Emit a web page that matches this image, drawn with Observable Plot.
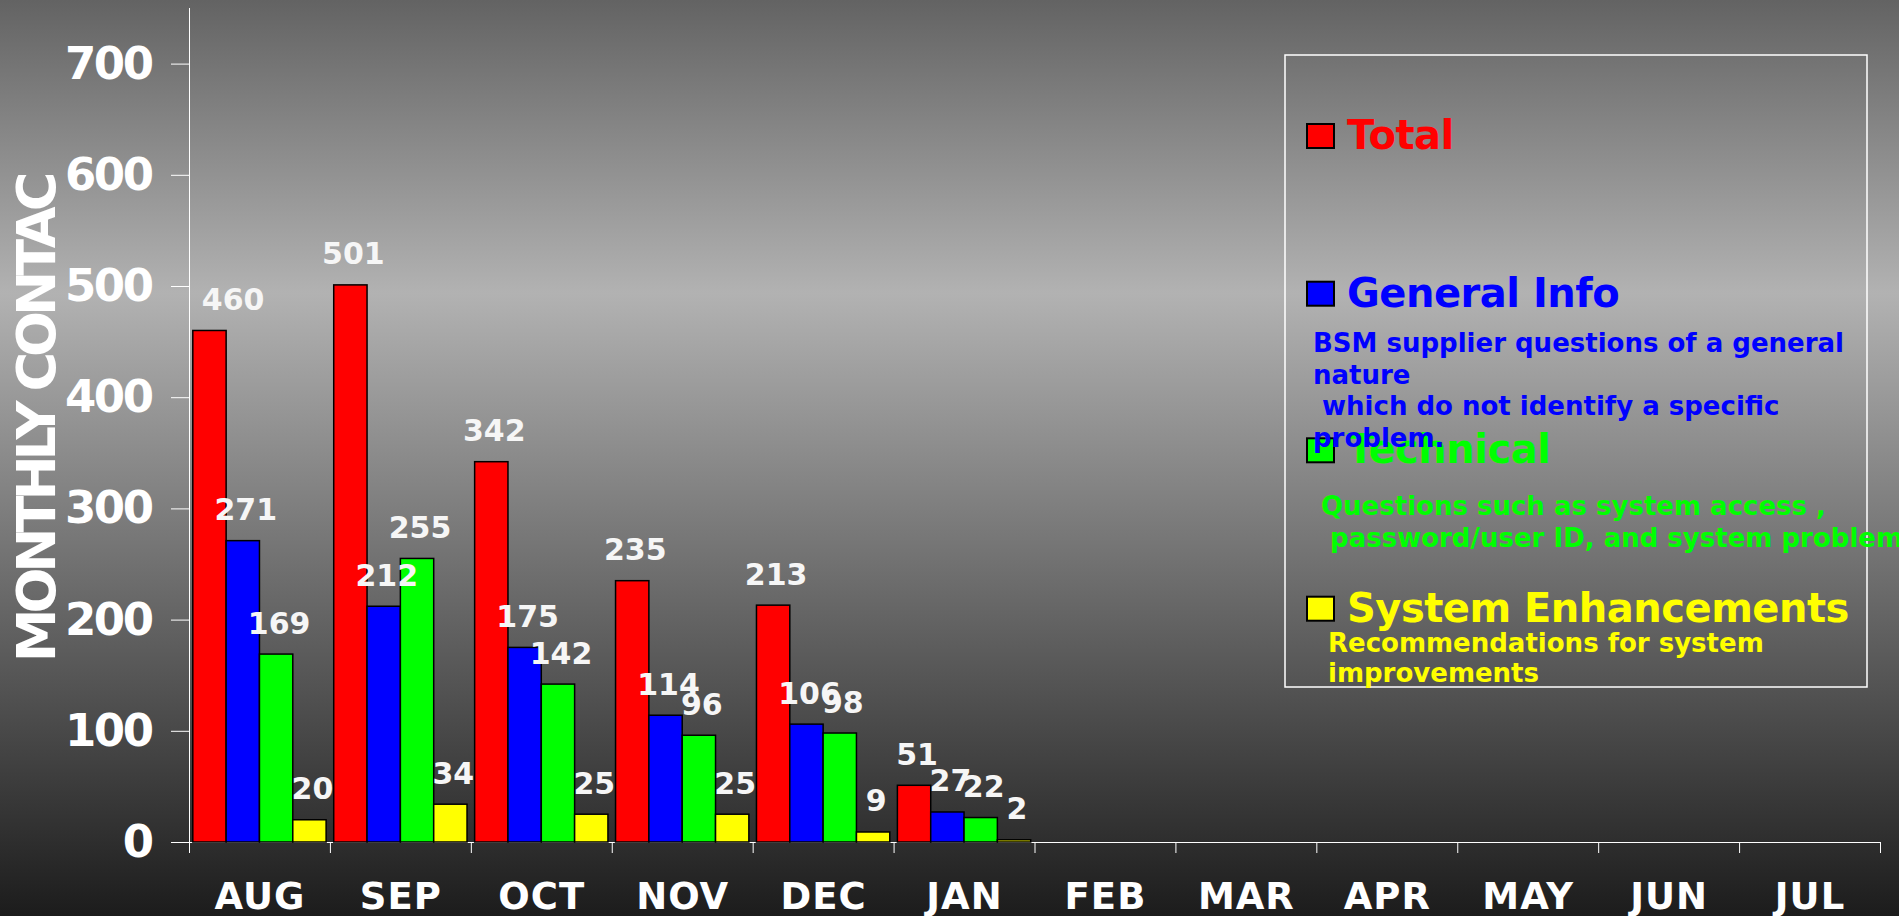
<!DOCTYPE html>
<html>
<head>
<meta charset="utf-8">
<script src="https://cdn.jsdelivr.net/npm/d3@7"></script>
<script src="https://cdn.jsdelivr.net/npm/@observablehq/plot@0.6"></script>
<style>
  html, body { margin: 0; padding: 0; overflow: hidden; background: #1e1e1e; }
  #chart { position: relative; width: 1899px; height: 916px; }
  svg text { font-family: "DejaVu Sans", sans-serif; font-weight: bold; }
  g[aria-label^="y-axis"] text { font-size: 45px; letter-spacing: -2.5px; }
  g.legend text { text-anchor: start; }
</style>
</head>
<body>
<div id="chart"></div>
<script>
// ---- data ----
const months = ["AUG", "SEP", "OCT", "NOV", "DEC", "JAN", "FEB", "MAR", "APR", "MAY", "JUN", "JUL"];
const seriesNames = ["Total", "General Info", "Technical", "System Enhancements"];
const seriesColors = ["#ff0000", "#0000ff", "#00ff00", "#ffff00"];
const totalValues = [460, 501, 342, 235, 213, 51];
const generalInfoValues = [271, 212, 175, 114, 106, 27];
const technicalValues = [169, 255, 142, 96, 98, 22];
const enhancementValues = [20, 34, 25, 25, 9, 2];
const yTicks = [0, 100, 200, 300, 400, 500, 600, 700];
const yAxisTitle = "MONTHLY CONTAC";
const legendDescriptions = [
  [],
  ["BSM supplier questions of a general", "nature", " which do not identify a specific", "problem."],
  ["Questions such as system access ,", " password/user ID, and system problems"],
  ["Recommendations for system", "improvements"]
];

// ---- table ----
const seriesValues = [totalValues, generalInfoValues, technicalValues, enhancementValues];
const rows = [];
seriesValues.forEach((vals, si) => {
  vals.forEach((v, mi) => rows.push({month: months[mi], mi, si, series: seriesNames[si], value: v}));
});

// ---- layout helpers (month slot = 1 unit) ----
const PAD = 0.027;
const W = (1 - 2 * PAD) / 4;
const barX1 = d => d.mi + PAD + d.si * W;
const barX2 = d => d.mi + PAD + (d.si + 1) * W;
const pxPerUnit = (1899 - 189 - 19) / 12;
const labelX = d => {
  const c = (barX1(d) + barX2(d)) / 2;
  const half = (String(d.value).length * 0.696 * 30 / 2) / pxPerUnit;
  const minLeft = 0.07;
  return Math.max(c, minLeft + half);
};

const plot = Plot.plot({
  width: 1899,
  height: 916,
  marginLeft: 189,
  marginRight: 19,
  marginTop: 8,
  marginBottom: 74,
  style: {
    background: "linear-gradient(to bottom, #636363 0%, #b2b2b2 32%, #1c1c1c 100%)",
    color: "white",
    fontFamily: "DejaVu Sans",
    fontWeight: "bold",
    overflow: "hidden"
  },
  x: {domain: [0, 12], ticks: d3.range(13), tickFormat: () => "", tickSize: 11, line: true, label: null},
  y: {domain: [0, 750], ticks: yTicks, tickSize: 18, tickPadding: 20, line: true, label: null},
  color: {domain: seriesNames, range: seriesColors},
  marks: [
    Plot.rectY(rows, {x1: barX1, x2: barX2, y1: 0, y2: "value", fill: "series", stroke: "black", strokeWidth: 1.5}),
    Plot.text(rows, {x: labelX, y: "value", text: d => String(d.value), lineAnchor: "bottom", dy: -21, dx: 2.5,
      fill: "#f6f6f6", fontSize: 30, fontWeight: "bold"}),
    Plot.text(months, {x: (d, i) => i + 0.5, frameAnchor: "bottom", text: d => d, lineAnchor: "bottom", dy: 66,
      fill: "white", fontSize: 37, fontWeight: "bold"}),
    Plot.text([yAxisTitle], {frameAnchor: "left", text: d => d, rotate: -90, textAnchor: "middle", lineAnchor: "middle",
      dx: -152, dy: -6, fill: "white", fontSize: 54, fontWeight: "bold"})
  ]
});

document.getElementById("chart").appendChild(plot);

const svg = d3.select(plot);
svg.selectAll("text").filter(function () { return this.textContent === yAxisTitle; })
  .style("letter-spacing", "-5px");
svg.selectAll("text").filter(function () { return months.includes(this.textContent); })
  .style("letter-spacing", "1px");

// ---- legend ----
const lg = svg.append("g").attr("class", "legend").attr("text-anchor", "start");
lg.append("rect").attr("x", 1285).attr("y", 55).attr("width", 582).attr("height", 632)
  .attr("fill", "none").attr("stroke", "white").attr("stroke-width", 1.5);

const titleBaselines = [149, 306.7, 463.3, 621.7];
const descLayout = [null, {x: 1313, y: 352, lh: 31.7}, {x: 1321, y: 515, lh: 31.7}, {x: 1328, y: 651.7, lh: 30}];

seriesNames.forEach((name, i) => {
  const b = titleBaselines[i];
  lg.append("rect").attr("x", 1307).attr("y", b - 25).attr("width", 27).attr("height", 24)
    .attr("fill", seriesColors[i]).attr("stroke", "black").attr("stroke-width", 2);
  lg.append("text").attr("x", 1347).attr("y", b).attr("fill", seriesColors[i])
    .style("font-size", "40px").style("letter-spacing", "-0.5px").style("text-anchor", "start").text(name);
});
seriesNames.forEach((name, i) => {
  const L = descLayout[i];
  if (!L) return;
  legendDescriptions[i].forEach((line, j) => {
    lg.append("text").attr("x", L.x).attr("y", L.y + j * L.lh).attr("fill", seriesColors[i])
      .style("font-size", "26px").style("white-space", "pre").style("text-anchor", "start").text(line);
  });
});
</script>
</body>
</html>
